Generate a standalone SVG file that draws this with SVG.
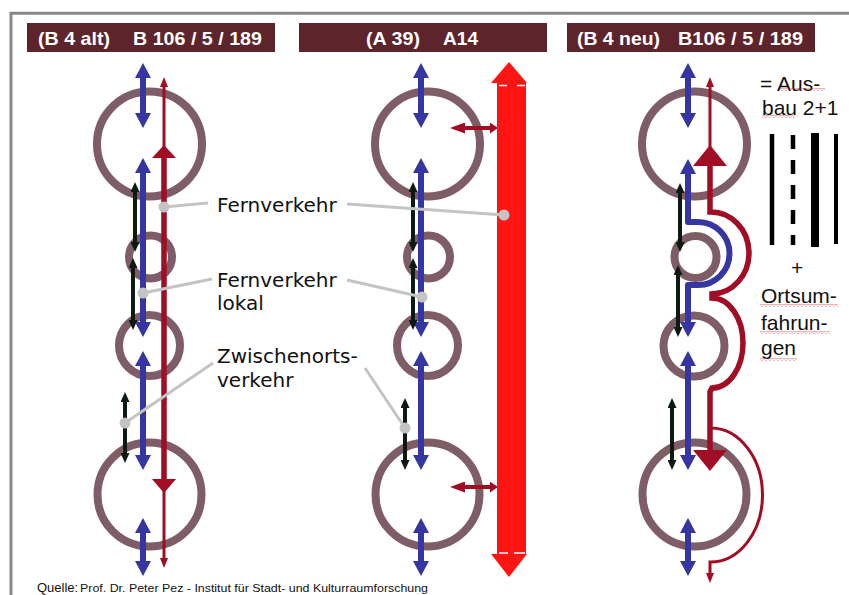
<svg xmlns="http://www.w3.org/2000/svg" width="849" height="595" viewBox="0 0 849 595">
<style>
.ring{fill:none;stroke:#7f5d66;stroke-width:8}
.hdr{fill:#5e242c}
.ht{font-family:"Liberation Sans",Arial,sans-serif;font-weight:bold;font-size:19px;fill:#ffffff}
.lbl{font-family:"DejaVu Sans",Verdana,sans-serif;font-size:20px;fill:#111111}
.rt{font-family:"Liberation Sans",Arial,sans-serif;font-size:21px;fill:#111111}
.foot{font-family:"Liberation Sans",Arial,sans-serif;fill:#111111}
.blue{fill:none;stroke:#3636a2;stroke-width:6;stroke-linejoin:round}
.blk{fill:none;stroke:#0c1a12;stroke-width:4}
.rthin{fill:none;stroke:#a00d25;stroke-width:3}
.rthick{fill:none;stroke:#a00d25;stroke-width:5.5}
.rfill{fill:#a00d25}
.ddr{fill:none;stroke:#a00d25;stroke-width:4}
.lead{fill:none;stroke:#c4c4c4;stroke-width:3}
.dot{fill:#c4c4c4}
.lane{stroke:#000000;fill:none}
.frame{stroke:#878787;stroke-width:3;fill:none}
</style>
<defs>
<marker id="hb" viewBox="0 0 15 16" markerWidth="15" markerHeight="16" refX="3" refY="8" orient="auto-start-reverse" markerUnits="userSpaceOnUse"><path d="M0,0L15,8L0,16Z" fill="#3636a2"/></marker>
<marker id="hk" viewBox="0 0 10 9" markerWidth="10" markerHeight="9" refX="2" refY="4.5" orient="auto-start-reverse" markerUnits="userSpaceOnUse"><path d="M0,0L10,4.5L0,9Z" fill="#0c1a12"/></marker>
<marker id="hr" viewBox="0 0 10 8" markerWidth="10" markerHeight="8" refX="2" refY="4" orient="auto-start-reverse" markerUnits="userSpaceOnUse"><path d="M0,0L10,4L0,8Z" fill="#a00d25"/></marker>
<marker id="hdL" viewBox="0 0 15 11" markerWidth="15" markerHeight="11" refX="3" refY="5.5" orient="auto-start-reverse" markerUnits="userSpaceOnUse"><path d="M0,0L15,5.5L0,11Z" fill="#a00d25"/></marker>
<marker id="hdR" viewBox="0 0 8 11" markerWidth="8" markerHeight="11" refX="2" refY="5.5" orient="auto" markerUnits="userSpaceOnUse"><path d="M0,0L8,5.5L0,11Z" fill="#a00d25"/></marker>
<pattern id="wave" width="4" height="3" patternUnits="userSpaceOnUse"><path d="M0,2.5L2,0.5L4,2.5" fill="none" stroke="#d84040" stroke-width="0.8"/></pattern>
</defs>

<g id="frame">
<line class="frame" x1="10" y1="13.3" x2="849" y2="13.3"/>
<line class="frame" x1="11" y1="12" x2="11" y2="595"/>
</g>

<g id="header-1"><rect class="hdr" x="27" y="23" width="248" height="29"/>
<text class="ht" x="38" y="45" textLength="72" lengthAdjust="spacingAndGlyphs">(B 4 alt)</text>
<text class="ht" x="133" y="45" textLength="129" lengthAdjust="spacingAndGlyphs">B 106 / 5 / 189</text></g>
<g id="header-2"><rect class="hdr" x="299" y="23" width="248" height="29"/>
<text class="ht" x="366" y="45" textLength="54" lengthAdjust="spacingAndGlyphs">(A 39)</text>
<text class="ht" x="443" y="45" textLength="35" lengthAdjust="spacingAndGlyphs">A14</text></g>
<g id="header-3"><rect class="hdr" x="567" y="23" width="248" height="29"/>
<text class="ht" x="577" y="45" textLength="83" lengthAdjust="spacingAndGlyphs">(B 4 neu)</text>
<text class="ht" x="678" y="45" textLength="125" lengthAdjust="spacingAndGlyphs">B106 / 5 / 189</text></g>

<g id="p1-town-1"><circle class="ring" cx="149.5" cy="144" r="52.5"/></g>
<g id="p1-town-2"><circle class="ring" cx="150.5" cy="257" r="21.5"/></g>
<g id="p1-town-3"><circle class="ring" cx="149.5" cy="345.5" r="30.5"/></g>
<g id="p1-town-4"><circle class="ring" cx="149.5" cy="494.5" r="52"/></g>
<g id="p2-town-1"><circle class="ring" cx="427.5" cy="144" r="52.5"/></g>
<g id="p2-town-2"><circle class="ring" cx="428.5" cy="257" r="21.5"/></g>
<g id="p2-town-3"><circle class="ring" cx="427.5" cy="345.5" r="30.5"/></g>
<g id="p2-town-4"><circle class="ring" cx="427.5" cy="494.5" r="52"/></g>
<g id="p3-town-1"><circle class="ring" cx="694.5" cy="144" r="52.5"/></g>
<g id="p3-town-2"><circle class="ring" cx="695.5" cy="257" r="21"/></g>
<g id="p3-town-3"><circle class="ring" cx="694" cy="346" r="30.5"/></g>
<g id="p3-town-4"><circle class="ring" cx="694.5" cy="494.5" r="52"/></g>

<g id="connectors">
<!-- panel 1 -->
<line class="blue" x1="143" y1="75" x2="143" y2="116" marker-start="url(#hb)" marker-end="url(#hb)"/>
<line class="blue" x1="143" y1="170" x2="143" y2="325" marker-start="url(#hb)" marker-end="url(#hb)"/>
<line class="blue" x1="143" y1="363" x2="143" y2="458" marker-start="url(#hb)" marker-end="url(#hb)"/>
<line class="blue" x1="143" y1="530" x2="143" y2="564" marker-start="url(#hb)" marker-end="url(#hb)"/>
<line class="blk" x1="135" y1="190" x2="135" y2="244" marker-start="url(#hk)" marker-end="url(#hk)"/>
<line class="blk" x1="133" y1="266" x2="133" y2="322" marker-start="url(#hk)" marker-end="url(#hk)"/>
<line class="blk" x1="125" y1="400" x2="125" y2="455" marker-start="url(#hk)" marker-end="url(#hk)"/>
<line class="rthin" x1="164" y1="85" x2="164" y2="147" marker-start="url(#hr)"/>
<path class="rfill" d="M164,145L176,158L152,158Z"/>
<line class="rthick" x1="164" y1="157" x2="164" y2="480"/>
<path class="rfill" d="M152,479L176,479L164,493Z"/>
<line class="rthin" x1="164" y1="491" x2="164" y2="560" marker-end="url(#hr)"/>
<!-- panel 2 -->
<line class="blue" x1="421" y1="75" x2="421" y2="116" marker-start="url(#hb)" marker-end="url(#hb)"/>
<line class="blue" x1="421" y1="170" x2="421" y2="325" marker-start="url(#hb)" marker-end="url(#hb)"/>
<line class="blue" x1="421" y1="363" x2="421" y2="458" marker-start="url(#hb)" marker-end="url(#hb)"/>
<line class="blue" x1="421" y1="530" x2="421" y2="564" marker-start="url(#hb)" marker-end="url(#hb)"/>
<line class="blk" x1="413" y1="190" x2="413" y2="244" marker-start="url(#hk)" marker-end="url(#hk)"/>
<line class="blk" x1="413" y1="266" x2="413" y2="322" marker-start="url(#hk)" marker-end="url(#hk)"/>
<line class="blk" x1="405" y1="406" x2="405" y2="462" marker-start="url(#hk)" marker-end="url(#hk)"/>
<line class="ddr" x1="462" y1="128" x2="492" y2="128" marker-start="url(#hdL)" marker-end="url(#hdR)"/>
<line class="ddr" x1="462" y1="487" x2="492" y2="487" marker-start="url(#hdL)" marker-end="url(#hdR)"/>
<path fill="#ff1414" d="M509,62L527,83L526,83L526,554L527,554L509,577L491,554L497,554L497,83L491,83Z"/>
<path stroke="#ffffff" stroke-width="1.5" fill="none" d="M499,85.5H507M517,85.5H525M499,553H508M514,553H525"/>
<!-- panel 3 -->
<line class="blue" x1="688" y1="75" x2="688" y2="116" marker-start="url(#hb)" marker-end="url(#hb)"/>
<path class="blue" d="M688,171V222H698A31.5,31.5 0 0 1 698,285H688V325" marker-start="url(#hb)" marker-end="url(#hb)"/>
<line class="blue" x1="688" y1="363" x2="688" y2="458" marker-start="url(#hb)" marker-end="url(#hb)"/>
<line class="blue" x1="688" y1="530" x2="688" y2="564" marker-start="url(#hb)" marker-end="url(#hb)"/>
<line class="blk" x1="680" y1="191" x2="680" y2="244" marker-start="url(#hk)" marker-end="url(#hk)"/>
<line class="blk" x1="678" y1="273" x2="678" y2="329" marker-start="url(#hk)" marker-end="url(#hk)"/>
<line class="blk" x1="672" y1="406" x2="672" y2="462" marker-start="url(#hk)" marker-end="url(#hk)"/>
<line class="rthin" x1="710" y1="85" x2="710" y2="147" stroke-width="3.5" marker-start="url(#hr)"/>
<path class="rfill" d="M710,145L727,166L693,166Z"/>
<path class="rthick" stroke-width="7" d="M710,165V212A38,41 0 0 1 712,294L712,298A31,45 0 0 1 712,388L710,392V451"/>
<path class="rfill" d="M693,450L727,450L710,471Z"/>
<path class="rthin" stroke-width="3.5" d="M711,428A52,67 0 0 1 710,562V575" marker-end="url(#hr)"/>
</g>

<g id="leaders">
<line class="lead" x1="164" y1="207" x2="208" y2="203"/>
<line class="lead" x1="347" y1="204" x2="504" y2="215"/>
<line class="lead" x1="143" y1="293" x2="212" y2="279"/>
<line class="lead" x1="347" y1="280" x2="422" y2="297"/>
<line class="lead" x1="213" y1="363" x2="125" y2="423"/>
<line class="lead" x1="365" y1="368" x2="405" y2="428"/>
<circle class="dot" cx="164" cy="207" r="5.5"/>
<circle class="dot" cx="504" cy="215" r="5.5"/>
<circle class="dot" cx="143" cy="293" r="5.5"/>
<circle class="dot" cx="422" cy="297" r="5.5"/>
<circle class="dot" cx="125" cy="423" r="5.5"/>
<circle class="dot" cx="405" cy="428" r="5.5"/>
</g>

<g id="label-fernverkehr"><text class="lbl" x="217" y="212">Fernverkehr</text></g>
<g id="label-fernverkehr-lokal"><text class="lbl" x="217" y="287">Fernverkehr</text><text class="lbl" x="217" y="310">lokal</text></g>
<g id="label-zwischenortsverkehr"><text class="lbl" x="217" y="363">Zwischenorts-</text><text class="lbl" x="217" y="387">verkehr</text></g>

<g id="legend-ausbau">
<text class="rt" x="760" y="91">= Aus-</text>
<text class="rt" x="762" y="115">bau 2+1</text>
<rect x="780" y="88" width="45" height="3" fill="url(#wave)"/>
<rect x="762" y="115" width="33" height="3" fill="url(#wave)"/>
<line class="lane" x1="772" y1="134" x2="772" y2="245" stroke-width="4.5"/>
<line class="lane" x1="793" y1="135" x2="793" y2="245" stroke-width="4.5" stroke-dasharray="14 11"/>
<line class="lane" x1="815" y1="133" x2="815" y2="247" stroke-width="8"/>
<line class="lane" x1="836" y1="134" x2="836" y2="244" stroke-width="4"/>
<text class="rt" x="791" y="275">+</text>
<text class="rt" x="761" y="303">Ortsum-</text>
<text class="rt" x="761" y="330">fahrun-</text>
<text class="rt" x="761" y="355">gen</text>
<rect x="760" y="304" width="78" height="3" fill="url(#wave)"/>
<rect x="760" y="331" width="70" height="3" fill="url(#wave)"/>
<rect x="760" y="358" width="37" height="3" fill="url(#wave)"/>
</g>

<g id="source">
<text class="foot" x="37" y="592" font-size="13">Quelle:</text>
<text class="foot" x="80" y="592" font-size="11" textLength="348" lengthAdjust="spacingAndGlyphs">Prof. Dr. Peter Pez - Institut für Stadt- und Kulturraumforschung</text>
</g>
</svg>
